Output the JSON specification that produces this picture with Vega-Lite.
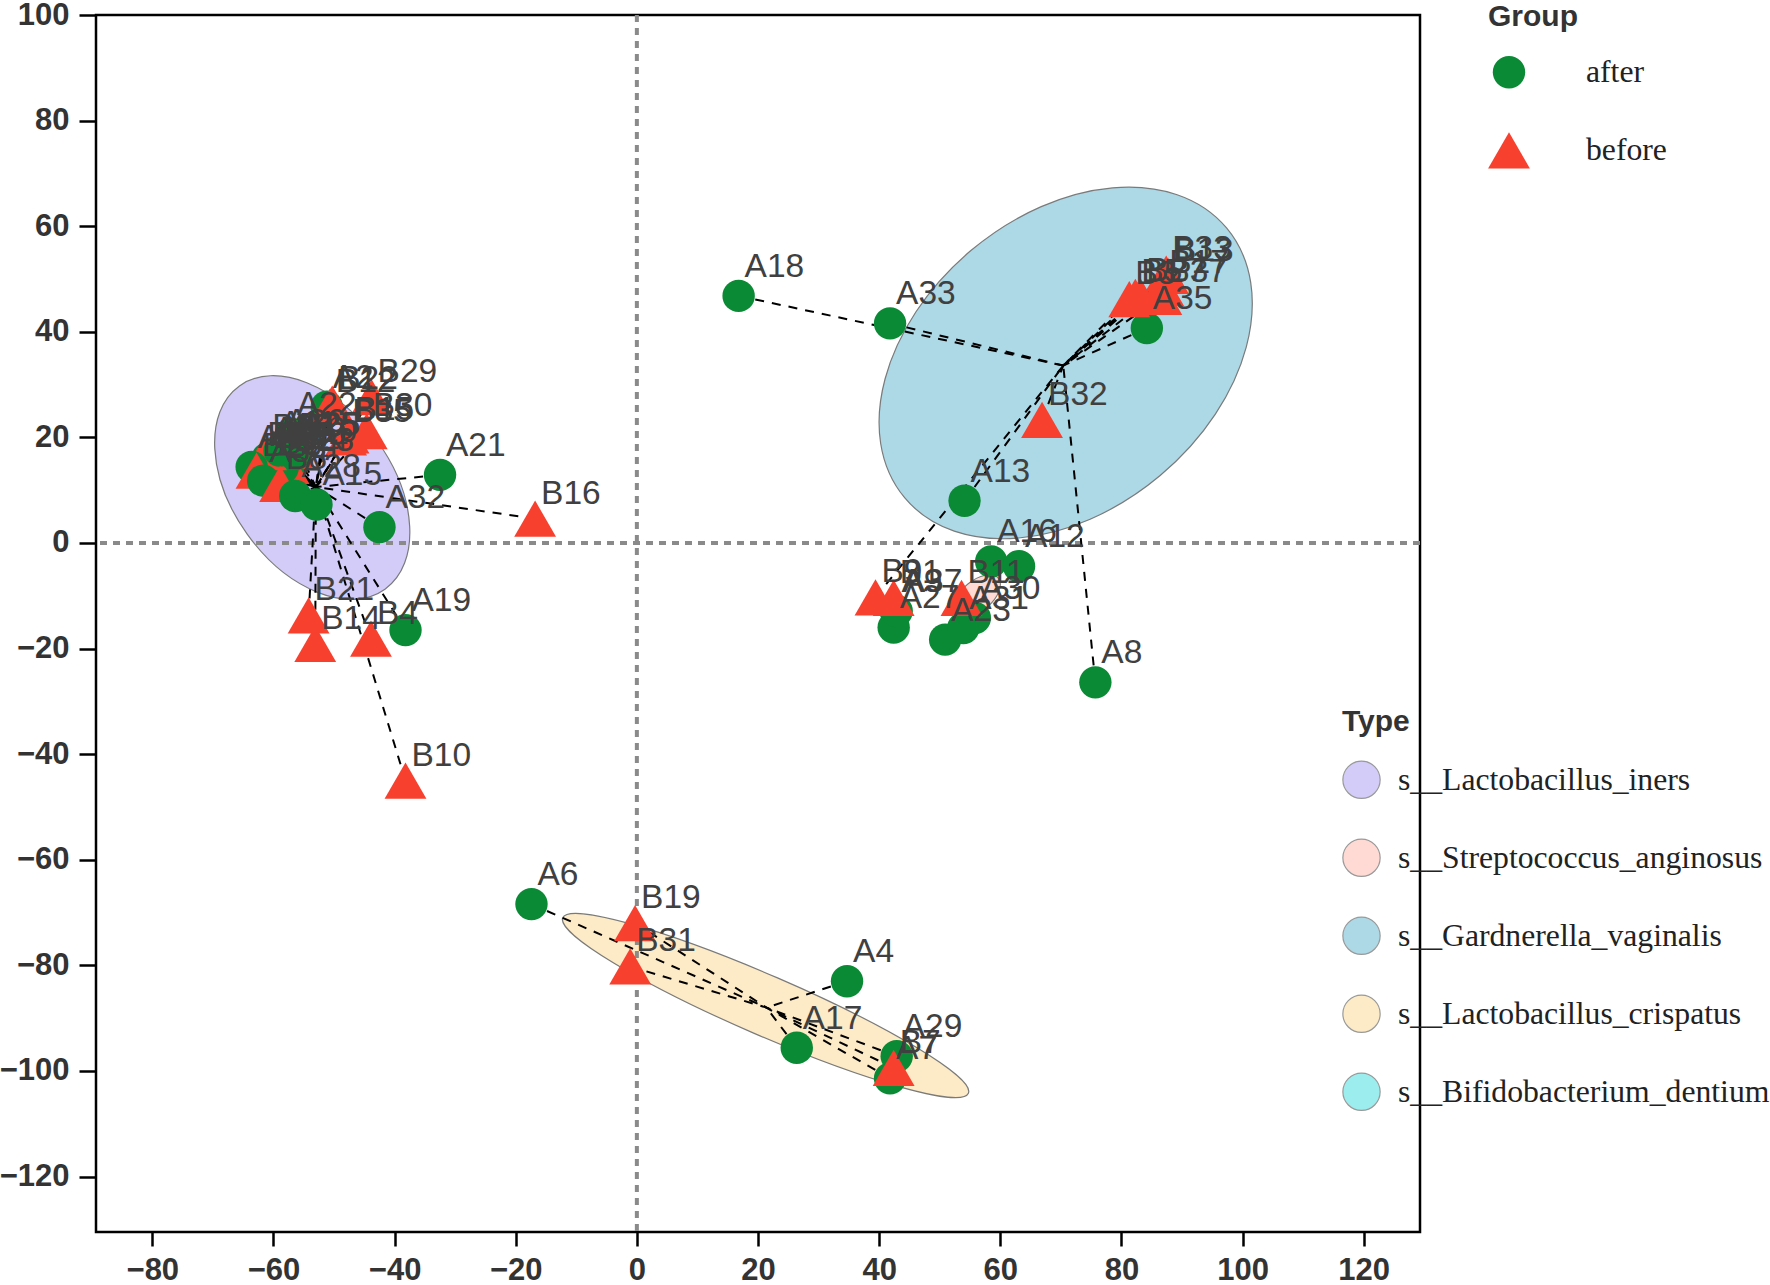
{
  "$schema": "https://vega.github.io/schema/vega-lite/v6.json",
  "width": 1324,
  "height": 1217,
  "autosize": "none",
  "padding": {"left": 96, "top": 15, "right": 350, "bottom": 53},
  "background": "white",
  "config": {
    "view": {"stroke": "black", "strokeWidth": 2.5},
    "axis": {"domain": false, "grid": false, "tickColor": "black", "tickWidth": 2.5, "labelFont": "Liberation Sans", "labelFontWeight": "bold", "labelFontSize": 31, "labelColor": "#333333", "title": null},
    "legend": {"padding": 0, "titleFont": "Liberation Sans", "titleFontSize": 30, "titleFontWeight": "bold", "titleColor": "#333333", "labelFont": "Liberation Serif", "labelFontSize": 31.7, "labelColor": "#222222", "rowPadding": 0, "labelLimit": 0}
  },
  "datasets": {
    "pts": [
      {"id": "A1", "x": -61.0, "y": 16.0, "Group": "after", "Type": "s__Lactobacillus_iners"},
      {"id": "B6", "x": -60.5, "y": 15.2, "Group": "before", "Type": "s__Lactobacillus_iners"},
      {"id": "A3", "x": -59.5, "y": 15.0, "Group": "after", "Type": "s__Lactobacillus_iners"},
      {"id": "B18", "x": -62.0, "y": 15.8, "Group": "before", "Type": "s__Lactobacillus_iners"},
      {"id": "A5", "x": -58.0, "y": 16.5, "Group": "after", "Type": "s__Lactobacillus_iners"},
      {"id": "B20", "x": -58.8, "y": 15.8, "Group": "before", "Type": "s__Lactobacillus_iners"},
      {"id": "A10", "x": -57.0, "y": 15.5, "Group": "after", "Type": "s__Lactobacillus_iners"},
      {"id": "B23", "x": -57.5, "y": 14.6, "Group": "before", "Type": "s__Lactobacillus_iners"},
      {"id": "A11", "x": -60.0, "y": 17.0, "Group": "after", "Type": "s__Lactobacillus_iners"},
      {"id": "B24", "x": -60.0, "y": 14.0, "Group": "before", "Type": "s__Lactobacillus_iners"},
      {"id": "A14", "x": -61.5, "y": 14.8, "Group": "after", "Type": "s__Lactobacillus_iners"},
      {"id": "B25", "x": -56.8, "y": 17.5, "Group": "before", "Type": "s__Lactobacillus_iners"},
      {"id": "A24", "x": -58.5, "y": 14.2, "Group": "after", "Type": "s__Lactobacillus_iners"},
      {"id": "B28", "x": -61.2, "y": 17.2, "Group": "before", "Type": "s__Lactobacillus_iners"},
      {"id": "A25", "x": -56.5, "y": 16.8, "Group": "after", "Type": "s__Lactobacillus_iners"},
      {"id": "A26", "x": -59.0, "y": 17.5, "Group": "after", "Type": "s__Lactobacillus_iners"},
      {"id": "A22", "x": -57.1, "y": 20.7, "Group": "after", "Type": "s__Lactobacillus_iners"},
      {"id": "A2", "x": -51.2, "y": 25.8, "Group": "after", "Type": "s__Lactobacillus_iners"},
      {"id": "B12", "x": -50.7, "y": 25.8, "Group": "before", "Type": "s__Lactobacillus_iners"},
      {"id": "B22", "x": -50.3, "y": 26.4, "Group": "before", "Type": "s__Lactobacillus_iners"},
      {"id": "B29", "x": -43.8, "y": 27.6, "Group": "before", "Type": "s__Lactobacillus_iners"},
      {"id": "B35", "x": -48.0, "y": 20.0, "Group": "before", "Type": "s__Lactobacillus_iners"},
      {"id": "B15", "x": -47.6, "y": 20.4, "Group": "before", "Type": "s__Lactobacillus_iners"},
      {"id": "B30", "x": -44.6, "y": 21.2, "Group": "before", "Type": "s__Lactobacillus_iners"},
      {"id": "A36", "x": -63.6, "y": 14.4, "Group": "after", "Type": "s__Lactobacillus_iners"},
      {"id": "B26", "x": -62.8, "y": 13.7, "Group": "before", "Type": "s__Lactobacillus_iners"},
      {"id": "A34", "x": -61.7, "y": 11.8, "Group": "after", "Type": "s__Lactobacillus_iners"},
      {"id": "B8", "x": -58.9, "y": 11.2, "Group": "before", "Type": "s__Lactobacillus_iners"},
      {"id": "A28", "x": -56.4, "y": 8.9, "Group": "after", "Type": "s__Lactobacillus_iners"},
      {"id": "A15", "x": -52.9, "y": 7.3, "Group": "after", "Type": "s__Lactobacillus_iners"},
      {"id": "A21", "x": -32.5, "y": 12.9, "Group": "after", "Type": "s__Lactobacillus_iners"},
      {"id": "A32", "x": -42.5, "y": 3.0, "Group": "after", "Type": "s__Lactobacillus_iners"},
      {"id": "B16", "x": -16.8, "y": 4.6, "Group": "before", "Type": "s__Lactobacillus_iners"},
      {"id": "B21", "x": -54.2, "y": -13.7, "Group": "before", "Type": "s__Lactobacillus_iners"},
      {"id": "B14", "x": -53.1, "y": -19.1, "Group": "before", "Type": "s__Lactobacillus_iners"},
      {"id": "B4", "x": -43.9, "y": -18.1, "Group": "before", "Type": "s__Lactobacillus_iners"},
      {"id": "A19", "x": -38.2, "y": -16.5, "Group": "after", "Type": "s__Lactobacillus_iners"},
      {"id": "B10", "x": -38.2, "y": -45.0, "Group": "before", "Type": "s__Lactobacillus_iners"},
      {"id": "A18", "x": 16.8, "y": 46.8, "Group": "after", "Type": "s__Gardnerella_vaginalis"},
      {"id": "A33", "x": 41.8, "y": 41.6, "Group": "after", "Type": "s__Gardnerella_vaginalis"},
      {"id": "A35", "x": 84.2, "y": 40.7, "Group": "after", "Type": "s__Gardnerella_vaginalis"},
      {"id": "B3", "x": 81.3, "y": 46.2, "Group": "before", "Type": "s__Gardnerella_vaginalis"},
      {"id": "B5", "x": 82.3, "y": 46.6, "Group": "before", "Type": "s__Gardnerella_vaginalis"},
      {"id": "B27", "x": 83.1, "y": 46.8, "Group": "before", "Type": "s__Gardnerella_vaginalis"},
      {"id": "B37", "x": 86.6, "y": 46.6, "Group": "before", "Type": "s__Gardnerella_vaginalis"},
      {"id": "B17", "x": 86.9, "y": 48.3, "Group": "before", "Type": "s__Gardnerella_vaginalis"},
      {"id": "B33", "x": 87.4, "y": 51.0, "Group": "before", "Type": "s__Gardnerella_vaginalis"},
      {"id": "B13", "x": 87.7, "y": 50.6, "Group": "before", "Type": "s__Gardnerella_vaginalis"},
      {"id": "B32", "x": 66.9, "y": 23.3, "Group": "before", "Type": "s__Gardnerella_vaginalis"},
      {"id": "A13", "x": 54.1, "y": 8.0, "Group": "after", "Type": "s__Gardnerella_vaginalis"},
      {"id": "A8", "x": 75.7, "y": -26.4, "Group": "after", "Type": "s__Gardnerella_vaginalis"},
      {"id": "A16", "x": 58.5, "y": -3.5, "Group": "after", "Type": "s__Bifidobacterium_dentium"},
      {"id": "A12", "x": 63.1, "y": -4.4, "Group": "after", "Type": "s__Bifidobacterium_dentium"},
      {"id": "A27", "x": 42.4, "y": -16.0, "Group": "after", "Type": "s__Bifidobacterium_dentium"},
      {"id": "A9", "x": 42.7, "y": -12.8, "Group": "after", "Type": "s__Bifidobacterium_dentium"},
      {"id": "A37", "x": 42.9, "y": -12.9, "Group": "after", "Type": "s__Bifidobacterium_dentium"},
      {"id": "A23", "x": 50.9, "y": -18.3, "Group": "after", "Type": "s__Bifidobacterium_dentium"},
      {"id": "A31", "x": 53.9, "y": -16.1, "Group": "after", "Type": "s__Bifidobacterium_dentium"},
      {"id": "A30", "x": 55.8, "y": -14.2, "Group": "after", "Type": "s__Streptococcus_anginosus"},
      {"id": "B9", "x": 39.4, "y": -10.3, "Group": "before", "Type": "s__Gardnerella_vaginalis"},
      {"id": "B1", "x": 42.4, "y": -10.4, "Group": "before", "Type": "s__Bifidobacterium_dentium"},
      {"id": "B11", "x": 53.6, "y": -10.4, "Group": "before", "Type": "s__Streptococcus_anginosus"},
      {"id": "A6", "x": -17.4, "y": -68.4, "Group": "after", "Type": "s__Lactobacillus_crispatus"},
      {"id": "B19", "x": -0.3, "y": -72.0, "Group": "before", "Type": "s__Lactobacillus_crispatus"},
      {"id": "B31", "x": -1.1, "y": -80.2, "Group": "before", "Type": "s__Lactobacillus_crispatus"},
      {"id": "A4", "x": 34.7, "y": -83.0, "Group": "after", "Type": "s__Lactobacillus_crispatus"},
      {"id": "A17", "x": 26.4, "y": -95.6, "Group": "after", "Type": "s__Lactobacillus_crispatus"},
      {"id": "A29", "x": 42.9, "y": -97.2, "Group": "after", "Type": "s__Lactobacillus_crispatus"},
      {"id": "A7", "x": 41.8, "y": -101.4, "Group": "after", "Type": "s__Lactobacillus_crispatus"},
      {"id": "B7", "x": 42.4, "y": -99.4, "Group": "before", "Type": "s__Lactobacillus_crispatus"}
    ],
    "centroids": [
      {"Type": "s__Lactobacillus_iners", "cx": -53.0, "cy": 10.6},
      {"Type": "s__Gardnerella_vaginalis", "cx": 70.4, "cy": 33.6},
      {"Type": "s__Lactobacillus_crispatus", "cx": 21.4, "cy": -88.0},
      {"Type": "s__Streptococcus_anginosus", "cx": 55.0, "cy": -11.8}
    ],
    "ellipses": [
      {"Type": "s__Lactobacillus_iners", "x": -53.6, "y": 10.5},
      {"Type": "s__Gardnerella_vaginalis", "x": 70.8, "y": 34.1},
      {"Type": "s__Lactobacillus_crispatus", "x": 21.25, "y": -87.6},
      {"Type": "s__Streptococcus_anginosus", "x": 56.2, "y": -10.0}
    ]
  },
  "layer": [
    {
      "data": {"name": "ellipses"},
      "transform": [{"filter": "datum.Type === 's__Lactobacillus_iners'"}],
      "mark": {"type": "point", "shape": "M -1 0 A 1 0.64 0 1 0 1 0 A 1 0.64 0 1 0 -1 0 Z", "size": 62500, "angle": 54.4, "filled": true, "stroke": "#7a7a7a", "strokeWidth": 1.2, "opacity": 1},
      "encoding": {
        "x": {"field": "x", "type": "quantitative", "scale": {"domain": [-89.3, 129.3], "nice": false, "zero": false}, "axis": {"values": [-80, -60, -40, -20, 0, 20, 40, 60, 80, 100, 120], "tickSize": 14, "labelPadding": 9, "title": null}},
        "y": {"field": "y", "type": "quantitative", "scale": {"domain": [-130.5, 100], "nice": false, "zero": false}, "axis": {"values": [-120, -100, -80, -60, -40, -20, 0, 20, 40, 60, 80, 100], "tickSize": 17, "labelPadding": 10, "title": null}},
        "fill": {"field": "Type", "type": "nominal",
          "scale": {"domain": ["s__Lactobacillus_iners", "s__Streptococcus_anginosus", "s__Gardnerella_vaginalis", "s__Lactobacillus_crispatus", "s__Bifidobacterium_dentium"], "range": ["#D3CCF9", "#FFDAD4", "#ADD8E6", "#FDEAC6", "#9CEDED"]},
          "legend": {"orient": "none", "legendX": 1246, "legendY": 692, "title": "Type", "symbolType": "circle", "symbolSize": 1390, "symbolStrokeColor": "#999999", "symbolStrokeWidth": 1.2, "labelOffset": 17, "clipHeight": 77.6, "titlePadding": 4, "labelLimit": 0}}
      }
    },
    {
      "data": {"name": "ellipses"},
      "transform": [{"filter": "datum.Type === 's__Gardnerella_vaginalis'"}],
      "mark": {"type": "point", "shape": "M -1 0 A 1 0.7 0 1 0 1 0 A 1 0.7 0 1 0 -1 0 Z", "size": 176400, "angle": -40, "filled": true, "stroke": "#7a7a7a", "strokeWidth": 1.2, "opacity": 1},
      "encoding": {
        "x": {"field": "x", "type": "quantitative", "scale": {"domain": [-89.3, 129.3], "nice": false, "zero": false}, "axis": {"values": [-80, -60, -40, -20, 0, 20, 40, 60, 80, 100, 120], "tickSize": 14, "labelPadding": 9, "title": null}},
        "y": {"field": "y", "type": "quantitative", "scale": {"domain": [-130.5, 100], "nice": false, "zero": false}, "axis": {"values": [-120, -100, -80, -60, -40, -20, 0, 20, 40, 60, 80, 100], "tickSize": 17, "labelPadding": 10, "title": null}},
        "fill": {"field": "Type", "type": "nominal"}
      }
    },
    {
      "data": {"name": "ellipses"},
      "transform": [{"filter": "datum.Type === 's__Lactobacillus_crispatus'"}],
      "mark": {"type": "point", "shape": "M -1 0 A 1 0.136 0 1 0 1 0 A 1 0.136 0 1 0 -1 0 Z", "size": 195364, "angle": 23.4, "filled": true, "stroke": "#7a7a7a", "strokeWidth": 1.2, "opacity": 1},
      "encoding": {
        "x": {"field": "x", "type": "quantitative", "scale": {"domain": [-89.3, 129.3], "nice": false, "zero": false}, "axis": {"values": [-80, -60, -40, -20, 0, 20, 40, 60, 80, 100, 120], "tickSize": 14, "labelPadding": 9, "title": null}},
        "y": {"field": "y", "type": "quantitative", "scale": {"domain": [-130.5, 100], "nice": false, "zero": false}, "axis": {"values": [-120, -100, -80, -60, -40, -20, 0, 20, 40, 60, 80, 100], "tickSize": 17, "labelPadding": 10, "title": null}},
        "fill": {"field": "Type", "type": "nominal"}
      }
    },
    {
      "data": {"name": "ellipses"},
      "transform": [{"filter": "datum.Type === 's__Streptococcus_anginosus'"}],
      "mark": {"type": "point", "shape": "M -1 0 A 1 0.55 0 1 0 1 0 A 1 0.55 0 1 0 -1 0 Z", "size": 3000, "angle": -40, "filled": true, "stroke": "#7a7a7a", "strokeWidth": 1, "opacity": 1},
      "encoding": {
        "x": {"field": "x", "type": "quantitative", "scale": {"domain": [-89.3, 129.3], "nice": false, "zero": false}, "axis": {"values": [-80, -60, -40, -20, 0, 20, 40, 60, 80, 100, 120], "tickSize": 14, "labelPadding": 9, "title": null}},
        "y": {"field": "y", "type": "quantitative", "scale": {"domain": [-130.5, 100], "nice": false, "zero": false}, "axis": {"values": [-120, -100, -80, -60, -40, -20, 0, 20, 40, 60, 80, 100], "tickSize": 17, "labelPadding": 10, "title": null}},
        "fill": {"field": "Type", "type": "nominal"}
      }
    },
    {
      "data": {"values": [{"zero": 0}]},
      "mark": {"type": "rule", "stroke": "#8a8a8a", "strokeWidth": 4, "strokeDash": [7, 6]},
      "encoding": {
        "y": {"field": "zero", "type": "quantitative", "scale": {"domain": [-130.5, 100], "nice": false, "zero": false}, "axis": {"values": [-120, -100, -80, -60, -40, -20, 0, 20, 40, 60, 80, 100], "tickSize": 17, "labelPadding": 10, "title": null}}
      }
    },
    {
      "data": {"values": [{"zero": 0}]},
      "mark": {"type": "rule", "stroke": "#8a8a8a", "strokeWidth": 4, "strokeDash": [7, 6]},
      "encoding": {
        "x": {"field": "zero", "type": "quantitative", "scale": {"domain": [-89.3, 129.3], "nice": false, "zero": false}, "axis": {"values": [-80, -60, -40, -20, 0, 20, 40, 60, 80, 100, 120], "tickSize": 14, "labelPadding": 9, "title": null}}
      }
    },
    {
      "data": {"name": "pts"},
      "transform": [
        {"lookup": "Type", "from": {"data": {"name": "centroids"}, "key": "Type", "fields": ["cx", "cy"]}},
        {"filter": "isValid(datum.cx)"}
      ],
      "mark": {"type": "rule", "stroke": "black", "strokeWidth": 2, "strokeDash": [9, 8]},
      "encoding": {
        "x": {"field": "x", "type": "quantitative", "scale": {"domain": [-89.3, 129.3], "nice": false, "zero": false}, "axis": {"values": [-80, -60, -40, -20, 0, 20, 40, 60, 80, 100, 120], "tickSize": 14, "labelPadding": 9, "title": null}},
        "y": {"field": "y", "type": "quantitative", "scale": {"domain": [-130.5, 100], "nice": false, "zero": false}, "axis": {"values": [-120, -100, -80, -60, -40, -20, 0, 20, 40, 60, 80, 100], "tickSize": 17, "labelPadding": 10, "title": null}},
        "x2": {"field": "cx"},
        "y2": {"field": "cy"}
      }
    },
    {
      "data": {"name": "pts"},
      "mark": {"type": "point", "filled": true, "opacity": 1, "strokeWidth": 0},
      "encoding": {
        "x": {"field": "x", "type": "quantitative", "scale": {"domain": [-89.3, 129.3], "nice": false, "zero": false}, "axis": {"values": [-80, -60, -40, -20, 0, 20, 40, 60, 80, 100, 120], "tickSize": 14, "labelPadding": 9, "title": null}},
        "y": {"field": "y", "type": "quantitative", "scale": {"domain": [-130.5, 100], "nice": false, "zero": false}, "axis": {"values": [-120, -100, -80, -60, -40, -20, 0, 20, 40, 60, 80, 100], "tickSize": 17, "labelPadding": 10, "title": null}},
        "color": {"field": "Group", "type": "nominal", "scale": {"domain": ["after", "before"], "range": ["#0A8A34", "#F8402E"]},
          "legend": {"orient": "none", "legendX": 1392, "legendY": -13.5, "title": "Group", "labelOffset": 56, "clipHeight": 77.6, "titlePadding": 2, "symbolStrokeWidth": 0}},
        "shape": {"field": "Group", "type": "nominal", "scale": {"domain": ["after", "before"], "range": ["circle", "triangle-up"]}},
        "size": {"field": "Group", "type": "nominal", "scale": {"domain": ["after", "before"], "range": [1050, 1750]}}
      }
    },
    {
      "data": {"name": "pts"},
      "transform": [{"filter": "datum.Group === 'after'"}],
      "mark": {"type": "text", "align": "left", "baseline": "alphabetic", "dx": 6, "dy": -19, "font": "Liberation Sans", "fontSize": 33.5, "color": "#404040"},
      "encoding": {
        "x": {"field": "x", "type": "quantitative", "scale": {"domain": [-89.3, 129.3], "nice": false, "zero": false}, "axis": {"values": [-80, -60, -40, -20, 0, 20, 40, 60, 80, 100, 120], "tickSize": 14, "labelPadding": 9, "title": null}},
        "y": {"field": "y", "type": "quantitative", "scale": {"domain": [-130.5, 100], "nice": false, "zero": false}, "axis": {"values": [-120, -100, -80, -60, -40, -20, 0, 20, 40, 60, 80, 100], "tickSize": 17, "labelPadding": 10, "title": null}},
        "text": {"field": "id"}
      }
    },
    {
      "data": {"name": "pts"},
      "transform": [{"filter": "datum.Group === 'before'"}],
      "mark": {"type": "text", "align": "left", "baseline": "alphabetic", "dx": 6, "dy": -15, "font": "Liberation Sans", "fontSize": 33.5, "color": "#404040"},
      "encoding": {
        "x": {"field": "x", "type": "quantitative", "scale": {"domain": [-89.3, 129.3], "nice": false, "zero": false}, "axis": {"values": [-80, -60, -40, -20, 0, 20, 40, 60, 80, 100, 120], "tickSize": 14, "labelPadding": 9, "title": null}},
        "y": {"field": "y", "type": "quantitative", "scale": {"domain": [-130.5, 100], "nice": false, "zero": false}, "axis": {"values": [-120, -100, -80, -60, -40, -20, 0, 20, 40, 60, 80, 100], "tickSize": 17, "labelPadding": 10, "title": null}},
        "text": {"field": "id"}
      }
    }
  ]
}
